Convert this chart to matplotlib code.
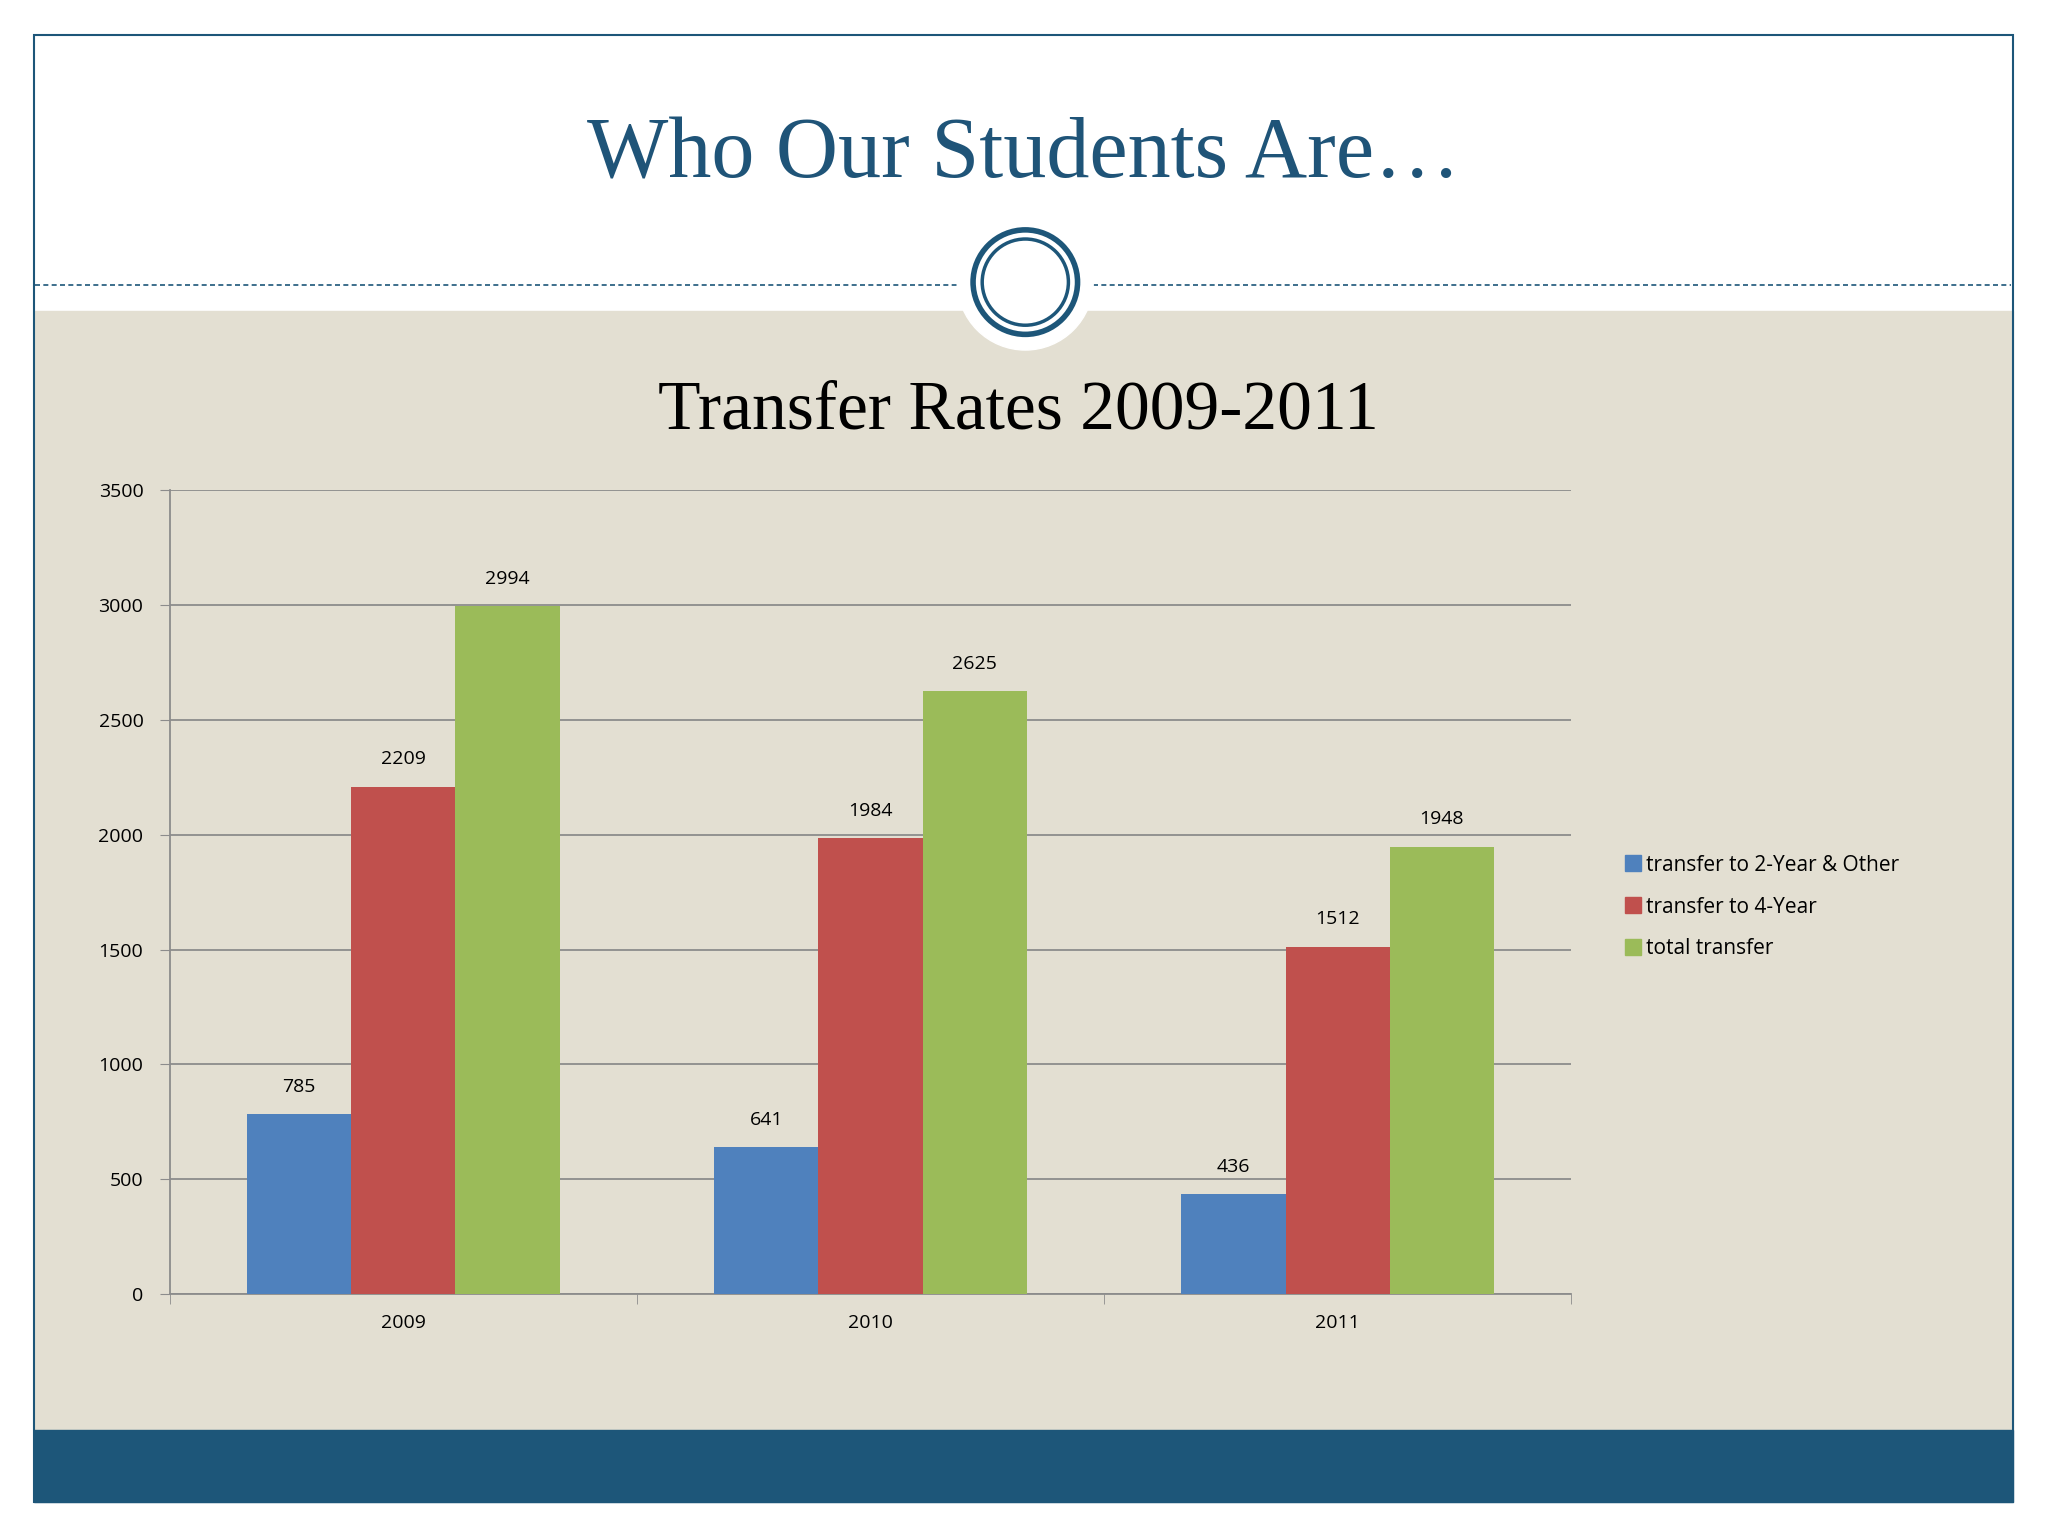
import matplotlib.pyplot as plt
import matplotlib.patches as mpatches
from matplotlib.lines import Line2D
import numpy as np

years = ['2009', '2010', '2011']
series = ['transfer to 2-Year & Other', 'transfer to 4-Year', 'total transfer']
two_year = [785, 641, 436]
four_year = [2209, 1984, 1512]
total = [2994, 2625, 1948]
colors = ['#4F81BD', '#C0504D', '#9BBB59']

W, H = 1568, 1176
fig = plt.figure(figsize=(20.48, 15.36), dpi=100)

def fx(x):
    return x / W

def fy(y):
    return 1 - y / H

# fondo de la diapositiva
bg = fig.add_axes([0, 0, 1, 1])
bg.set_xlim(0, W)
bg.set_ylim(H, 0)
bg.axis('off')
bg.add_patch(mpatches.Rectangle((26, 238), 1515, 857, color='#E3DFD2', zorder=1))
bg.add_patch(mpatches.Rectangle((26, 1095), 1515, 55, color='#1D5679', zorder=1))
bg.add_patch(mpatches.Rectangle((26, 27), 1515, 1123, fill=False, ec='#1D5679', lw=1.5, zorder=3))
bg.plot([27, 733], [218, 218], ls=(0, (3, 2)), color='#1D5679', lw=1.2, zorder=2)
bg.plot([837, 1540], [218, 218], ls=(0, (3, 2)), color='#1D5679', lw=1.2, zorder=2)
bg.add_patch(mpatches.Circle((785, 216), 52, color='white', zorder=4))
bg.add_patch(mpatches.Circle((785, 216), 40, fill=False, ec='#1D5679', lw=4, zorder=5))
bg.add_patch(mpatches.Circle((785, 216), 33, fill=False, ec='#1D5679', lw=2.5, zorder=5))

fig.text(0.5, fy(120), 'Who Our Students Are\u2026', ha='center', va='center',
         fontsize=62, color='#1F5478', family='Liberation Serif')
fig.text(fx(780), fy(315), 'Transfer Rates 2009-2011', ha='center', va='center',
         fontsize=50, color='black', family='Liberation Serif')

# grafico de barras
ax = fig.add_axes([fx(130), fy(991), fx(1203) - fx(130), fy(375) - fy(991)])
ax.patch.set_alpha(0)
x = np.arange(len(years))
w = 0.223
for i, (vals, c) in enumerate(zip([two_year, four_year, total], colors)):
    bars = ax.bar(x + (i - 1) * w, vals, w, color=c, label=series[i], zorder=3)
    for b, v in zip(bars, vals):
        ax.text(b.get_x() + b.get_width() / 2, v + 80, str(v), ha='center', va='bottom',
                fontsize=14, family='Open Sans')

ax.set_xlim(-0.5, 2.5)
ax.set_ylim(0, 3500)
ax.set_yticks(range(0, 3501, 500))
ax.yaxis.grid(True, color='#8C8C8C', lw=1.3, zorder=0)
ax.set_xticks(x)
ax.set_xticklabels(years)
ax.set_xticks([-0.5, 0.5, 1.5, 2.5], minor=True)
ax.tick_params(axis='x', which='major', length=0, pad=14)
ax.tick_params(axis='x', which='minor', length=7, color='#8C8C8C')
ax.tick_params(axis='y', length=7, color='#8C8C8C', pad=12)
for lab in ax.get_xticklabels() + ax.get_yticklabels():
    lab.set_fontsize(14)
    lab.set_family('Open Sans')
for s in ['top', 'right']:
    ax.spines[s].set_visible(False)
for s in ['left', 'bottom']:
    ax.spines[s].set_color('#8C8C8C')
    ax.spines[s].set_linewidth(1.3)

handles = [Line2D([], [], marker='s', ls='', color=c, markersize=12) for c in colors]
fig.legend(handles, series, loc='upper left', bbox_to_anchor=(fx(1228), fy(640)),
           frameon=False, prop={'family': 'Open Sans', 'size': 15},
           handletextpad=0.1, labelspacing=1.0, handlelength=1.0)

plt.savefig('out.png', dpi=100)
